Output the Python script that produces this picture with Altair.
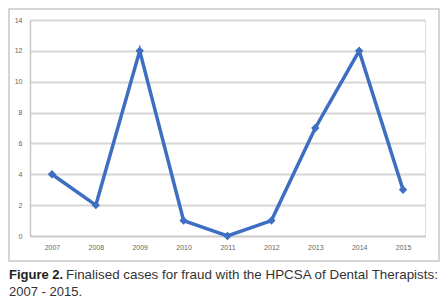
import altair as alt
import pandas as pd

years = ["2007", "2008", "2009", "2010", "2011", "2012", "2013", "2014", "2015"]
cases = [4, 2, 12, 1, 0, 1, 7, 12, 3]
y_ticks = [0, 2, 4, 6, 8, 10, 12, 14]
caption_bold = "Figure 2."
caption_line1 = "Finalised cases for fraud with the HPCSA of Dental Therapists:"
caption_line2 = "2007 - 2015."

df = pd.DataFrame({"year": years, "cases": cases})

W, H = 395, 216
BLUE = "#3d6ec2"

x = alt.X("year:N", sort=years, title=None,
          scale=alt.Scale(paddingInner=1, paddingOuter=0.5),
          axis=alt.Axis(labelAngle=0, labelFontSize=7, labelColor="#666",
                        labelPadding=7, ticks=False, domainColor="#c8c8c8",
                        domainWidth=1.5, domainDash=[2, 1], grid=False,
                        labelFont="Liberation Sans"))
y = alt.Y("cases:Q", title=None,
          scale=alt.Scale(domain=[0, 14], nice=False),
          axis=alt.Axis(values=y_ticks, labelFontSize=7, labelColor="#666",
                        labelPadding=8, ticks=False, domainColor="#c8c8c8",
                        domainWidth=1.5, gridColor="#d6d6d6", gridWidth=2.2,
                        labelFont="Liberation Sans"))

base = alt.Chart(df)
line = base.mark_line(color=BLUE, strokeWidth=3.5).encode(x=x, y=y)
pts = base.mark_point(shape="diamond", filled=True, color=BLUE, size=70, opacity=1).encode(x=x, y=y)

box = alt.Chart(pd.DataFrame({"a": [0]})).mark_rect(
    fill="white", fillOpacity=0, stroke="#c8c8c8", strokeWidth=1.5, strokeOpacity=1
).encode(x=alt.value(-21), x2=alt.value(409), y=alt.value(-11), y2=alt.value(241))

cap_b = alt.Chart(pd.DataFrame({"t": [caption_bold]})).mark_text(
    align="left", baseline="alphabetic", fontSize=13, fontWeight="bold",
    font="Liberation Sans", color="#222"
).encode(text="t:N", x=alt.value(-21), y=alt.value(259))

cap_1 = alt.Chart(pd.DataFrame({"t": [caption_line1]})).mark_text(
    align="left", baseline="alphabetic", fontSize=13.4,
    font="Liberation Sans", color="#333"
).encode(text="t:N", x=alt.value(36), y=alt.value(259))

cap_2 = alt.Chart(pd.DataFrame({"t": [caption_line2]})).mark_text(
    align="left", baseline="alphabetic", fontSize=13,
    font="Liberation Sans", color="#333"
).encode(text="t:N", x=alt.value(-21), y=alt.value(276))

chart = alt.layer(box, line, pts, cap_b, cap_1, cap_2).properties(
    width=W, height=H,
    autosize=alt.AutoSizeParams(type="none"),
    padding={"left": 22, "top": 12, "right": 15, "bottom": 63},
).configure_view(stroke=None).configure(background="white")

chart.save("out.html", embed_options={"renderer": "svg", "actions": False})
